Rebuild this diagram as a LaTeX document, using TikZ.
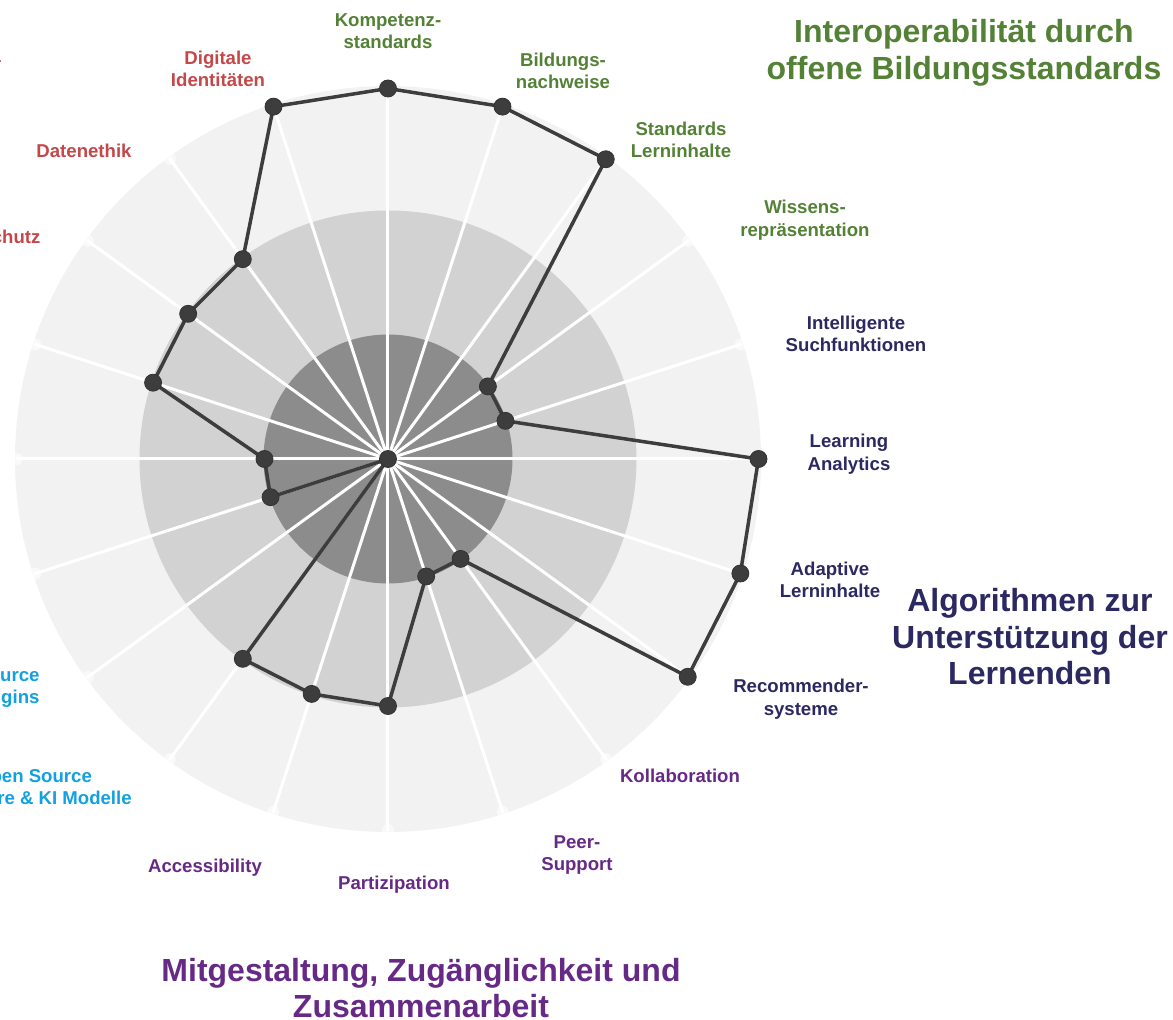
\documentclass[tikz,border=0pt]{standalone}
\usepackage{fontspec}
\setmainfont{Liberation Sans}
\usetikzlibrary{positioning}
\definecolor{gruen}{HTML}{538135}
\definecolor{marine}{HTML}{2B2862}
\definecolor{lila}{HTML}{662A86}
\definecolor{cyan}{HTML}{12A0E0}
\definecolor{rot}{HTML}{C4474A}
\definecolor{ringaussen}{HTML}{F2F2F2}
\definecolor{ringmitte}{HTML}{D2D2D2}
\definecolor{ringinnen}{HTML}{8C8C8C}
\definecolor{punkt}{HTML}{3D3D3D}
\tikzset{
  achse/.style={draw=white, line width=3pt},
  linie/.style={draw=punkt, line width=3.5pt, line join=round},
  wert/.style={
    circle, fill=punkt, draw=black!80, line width=0.8pt,
    inner sep=0pt, minimum size=17pt
  },
  achsentext/.style={
    font=\bfseries\fontsize{18.6}{22.5}\selectfont, align=center
  },
  titel/.style={
    font=\bfseries\fontsize{32}{36.5}\selectfont, align=center
  }
}
\begin{document}
\begin{tikzpicture}[x=1pt, y=1pt]
  \useasboundingbox (-388,-561) rectangle (785,459);
  % Ringe
  \fill[ringaussen] (0,0) circle (373);
  \fill[ringmitte] (0,0) circle (248.5);
  \fill[ringinnen] (0,0) circle (124.5);
  % Achsen
  \foreach \i in {0,...,19} {
    \draw[achse] (0,0) -- ({90-18*\i}:372);
    \fill[white, opacity=.6] ({90-18*\i}:371) circle (6);
  }
  % Werte
  \foreach \v [count=\i from 0] in {3,3,3,1,1,3,3,3,1,1,2,2,2,0,1,1,2,2,2,3} {
    \coordinate (p\i) at ({90-18*\i}:{123.5*\v});
  }
  \draw[linie] (p0) \foreach \i in {1,...,19} { -- (p\i) } -- cycle;
  \foreach \i in {0,...,19} \node[wert] (d\i) at (p\i) {};

  % Achsenbeschriftungen
  \node[achsentext, text=gruen] (kompetenz) at (0,428) {Kompetenz-\\standards};
  \node[achsentext, text=gruen] (nachweise) at (175,388) {Bildungs-\\nachweise};
  \node[achsentext, text=gruen] (standards) at (293,319) {Standards\\Lerninhalte};
  \node[achsentext, text=gruen] (wissen) at (417,239) {Wissens-\\repräsentation};
  \node[achsentext, text=marine] (suche) at (468,125) {Intelligente\\Suchfunktionen};
  \node[achsentext, text=marine] (analytics) at (461,5) {Learning\\Analytics};
  \node[achsentext, text=marine] (adaptiv) at (442,-121) {Adaptive\\Lerninhalte};
  \node[achsentext, text=marine] (recommender) at (413,-240) {Recommender-\\systeme};
  \node[achsentext, text=lila] (kollab) at (292,-317) {Kollaboration};
  \node[achsentext, text=lila] (peer) at (189,-396) {Peer-\\Support};
  \node[achsentext, text=lila] (partizipation) at (6,-426) {Partizipation};
  \node[achsentext, text=lila] (access) at (-183,-409) {Accessibility};
  \node[achsentext, text=cyan] (software) at (-354,-328) {Open Source\\Software \& KI Modelle};
  \node[achsentext, text=cyan, align=right, anchor=east] (plugins) at (-345,-229) {Open Source\\Plugins};
  \node[achsentext, text=rot, anchor=east] (schutz) at (-344,222) {Datenschutz};
  \node[achsentext, text=rot] (ethik) at (-304,308) {Datenethik};
  \node[achsentext, text=rot] (identitaet) at (-170,390) {Digitale\\Identitäten};
  \node[achsentext, text=rot, anchor=east] (und) at (-383,403) {\&};

  % Gruppentitel
  \node[titel, text=gruen] (interop) at (576,406) {Interoperabilität durch\\offene Bildungsstandards};
  \node[titel, text=marine] (algo) at (642,-178) {Algorithmen zur\\Unterstützung der\\Lernenden};
  \node[titel, text=lila] (mitgestaltung) at (33,-529) {Mitgestaltung, Zugänglichkeit und\\Zusammenarbeit};
\end{tikzpicture}
\end{document}
